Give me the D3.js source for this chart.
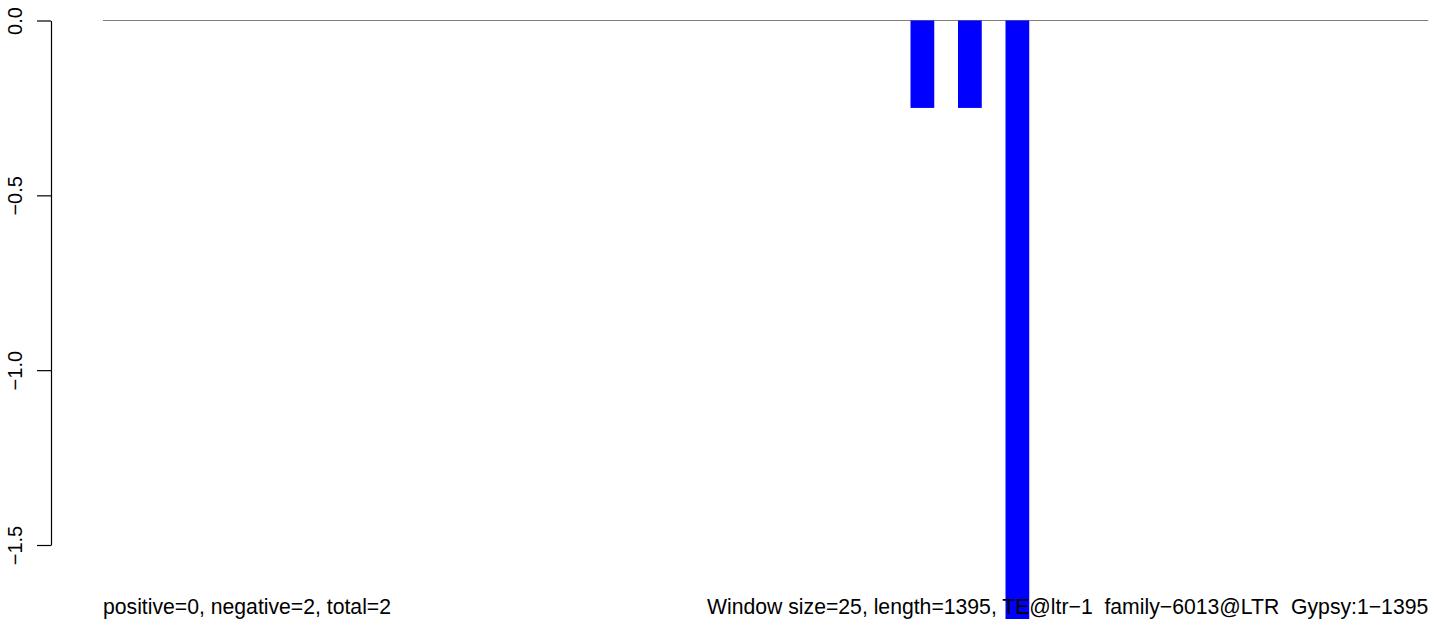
<!DOCTYPE html>
<html>
<head>
<meta charset="utf-8">
<script src="https://cdn.jsdelivr.net/npm/d3@7"></script>
<style>
  html, body { margin: 0; padding: 0; background: #fff; }
  svg { display: block; font-family: "Liberation Sans", Arial, Helvetica, sans-serif; }
  text { white-space: pre; }
</style>
</head>
<body>
<svg id="chart" width="1429" height="619"></svg>
<script>
// ---- data ----
const seqLength = 1395;
const windowSize = 25;
const windowStarts = [850, 900, 950];
const windowValues = [-0.25, -0.25, -2.0];
const yTicks = [0, -0.5, -1.0, -1.5];
const leftLabel = "positive=0, negative=2, total=2";
const rightLabel = "Window size=25, length=1395, TE@ltr\u22121  family\u22126013@LTR  Gypsy:1\u22121395";

// ---- layout ----
const W = 1429, H = 619;
const svg = d3.select("#chart");

const x = d3.scaleLinear().domain([0, seqLength]).range([103, 1428.25]);
const y = d3.scaleLinear().domain([0, -1.5]).range([20.5, 545]);

// baseline (zero line)
svg.append("line")
  .attr("x1", x(0)).attr("x2", x(seqLength))
  .attr("y1", y(0)).attr("y2", y(0))
  .attr("stroke", "#7f7f7f").attr("stroke-width", 1.2);

// bars
svg.selectAll("rect.bar")
  .data(windowStarts.map((s, i) => ({ s, v: windowValues[i] })))
  .enter().append("rect")
  .attr("class", "bar")
  .attr("x", d => x(d.s))
  .attr("width", d => x(d.s + windowSize) - x(d.s))
  .attr("y", d => Math.min(y(0), y(d.v)))
  .attr("height", d => Math.abs(y(d.v) - y(0)))
  .attr("fill", "#0000ff");

// y axis
const fmt = v => (v === 0 ? "0.0" : d3.format(".1f")(v).replace("-", "\u2212"));
const axisG = svg.append("g").attr("transform", "translate(51,0)");
axisG.call(d3.axisLeft(y).tickValues(yTicks).tickSize(14).tickSizeOuter(0).tickFormat(fmt));
axisG.select(".domain").attr("stroke", "#000").attr("stroke-width", 1.2);
axisG.selectAll(".tick line").attr("stroke", "#000").attr("stroke-width", 1.2);
axisG.selectAll(".tick text")
  .attr("x", 0).attr("y", 0).attr("dy", null)
  .attr("transform", "translate(-29.5,0) rotate(-90)")
  .attr("text-anchor", "middle")
  .attr("font-size", 20)
  .attr("font-family", "Liberation Sans, Arial, sans-serif")
  .attr("fill", "#000");

// bottom labels
svg.append("text")
  .attr("x", x(0)).attr("y", 614)
  .attr("font-size", 21.2)
  .attr("text-anchor", "start")
  .attr("fill", "#000")
  .text(leftLabel);

svg.append("text")
  .attr("x", x(seqLength)).attr("y", 614)
  .attr("font-size", 21.2)
  .attr("text-anchor", "end")
  .attr("fill", "#000")
  .text(rightLabel);
</script>
</body>
</html>
